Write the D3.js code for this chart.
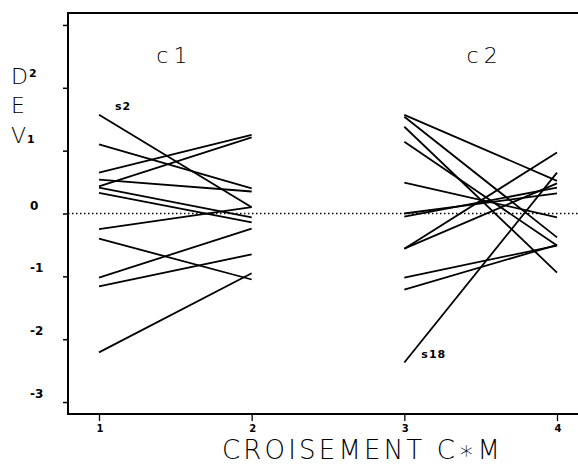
<!DOCTYPE html>
<html><head><meta charset="utf-8">
<script src="https://cdn.jsdelivr.net/npm/d3@7"></script>
<style>body{margin:0;background:#fff}svg{display:block}</style>
</head><body>
<svg id="chart" width="578" height="464"></svg>
<script>
// ---- data ----
const xTicks = [1, 2, 3, 4];
const groupNames = ["c1", "c2"];
const groupX = [[1, 2], [3, 4]];
const c1Start = [1.57, 1.10, 0.65, 0.54, 0.43, 0.41, 0.33, -0.25, -0.40, -1.02, -1.16, -2.21];
const c1End   = [0.10, 0.40, 1.25, 0.35, 1.21, -0.06, -0.14, 0.10, -1.05, -0.24, -0.65, -0.95];
const c2Start = [1.57, 1.54, 1.38, 1.14, 0.49, 0.00, -0.05, -0.56, -0.56, -1.02, -1.21, -2.37];
const c2End   = [0.52, -0.38, -0.94, -0.51, -0.06, 0.32, 0.41, 0.97, 0.48, -0.51, -0.50, 0.65];
const yTicks = [-3, -2, -1, 0, 1, 2, 3];
const yTickLabels = ["-3", "-2", "-1", "0", "", "", ""];
const pointLabels = [{group: 0, index: 0, text: "s2"}, {group: 1, index: 11, text: "s18"}];
const xTitle = "CROISEMENT C\u2217M";

// ---- scales ----
const svg = d3.select("#chart");
const x = d3.scaleLinear().domain([1, 4]).range([99, 557]);
const y = d3.scaleLinear().domain([-3.19, 3.19]).range([414, 13]);
const fLeft = 68, fRight = 578, fTop = 13, fBottom = 414;

// frame
svg.append("line").attr("x1", fLeft).attr("x2", fLeft).attr("y1", fTop - 1).attr("y2", fBottom + 1)
  .attr("stroke", "#000").attr("stroke-width", 2);
svg.append("line").attr("x1", fLeft - 1).attr("x2", fRight).attr("y1", fTop).attr("y2", fTop)
  .attr("stroke", "#000").attr("stroke-width", 2);
svg.append("line").attr("x1", fLeft - 1).attr("x2", fRight).attr("y1", fBottom).attr("y2", fBottom)
  .attr("stroke", "#000").attr("stroke-width", 2);

// y axis ticks
const yAxis = d3.axisLeft(y).tickValues(yTicks).tickSize(5).tickFormat("");
const gy = svg.append("g").attr("transform", `translate(${fLeft},0)`).call(yAxis);
gy.select(".domain").remove();
gy.selectAll(".tick line").attr("stroke", "#000").attr("stroke-width", 1.5);
svg.append("g").selectAll("text").data(yTicks.map((v, i) => ({v, t: yTickLabels[i]})))
  .join("text")
  .attr("x", 30).attr("y", d => y(d.v) - 4)
  .attr("font-family", "DejaVu Sans").attr("font-weight", "bold").attr("font-size", 12)
  .text(d => d.t);

// x axis ticks
const xAxis = d3.axisBottom(x).tickValues(xTicks).tickSize(7).tickFormat("");
const gx = svg.append("g").attr("transform", `translate(0,${fBottom})`).call(xAxis);
gx.select(".domain").remove();
gx.selectAll(".tick line").attr("stroke", "#000").attr("stroke-width", 1.3);
svg.append("g").selectAll("text").data(xTicks).join("text")
  .attr("x", d => x(d) + 1).attr("y", 432).attr("text-anchor", "middle")
  .attr("font-family", "DejaVu Sans").attr("font-weight", "bold").attr("font-size", 10)
  .text(d => d);

// zero dotted line
svg.append("line").attr("x1", fLeft).attr("x2", fRight).attr("y1", y(0)).attr("y2", y(0))
  .attr("stroke", "#000").attr("stroke-width", 1.3).attr("stroke-dasharray", "1.5,2.5");

// lines
const groups = [[c1Start, c1End], [c2Start, c2End]];
groups.forEach((g, gi) => {
  const segs = g[0].map((s, i) => [[groupX[gi][0], s], [groupX[gi][1], g[1][i]]]);
  svg.append("g").selectAll("path").data(segs).join("path")
    .attr("d", d3.line().x(d => x(d[0])).y(d => y(d[1])))
    .attr("fill", "none").attr("stroke", "#000").attr("stroke-width", 1.8);
});

// group titles
svg.append("g").selectAll("text").data(groupNames).join("text")
  .attr("x", (d, i) => x((groupX[i][0] + groupX[i][1]) / 2) - 1 + i * 5)
  .attr("y", 63).attr("text-anchor", "middle")
  .attr("font-family", "DejaVu Sans").attr("font-weight", 300).attr("font-size", 22)
  .attr("letter-spacing", 5)
  .text(d => d);

// point labels
svg.append("g").selectAll("text").data(pointLabels).join("text")
  .attr("x", d => x(groupX[d.group][0]) + (d.group === 0 ? 16 : 17))
  .attr("y", d => y(groups[d.group][0][d.index]) + (d.group === 0 ? -5 : -4))
  .attr("font-family", "DejaVu Sans").attr("font-weight", "bold").attr("font-size", 11)
  .attr("letter-spacing", 1)
  .text(d => d.text);

// y title (stacked)
const yt = svg.append("g").attr("font-family", "DejaVu Sans").attr("font-weight", 300);
[["D", "2", 84, -7], ["E", "", 113, 0], ["V", "1", 143, 0]].forEach(([m, s, yy, dy]) => {
  const t = yt.append("text").attr("x", 11).attr("y", yy).attr("font-size", 22);
  t.append("tspan").text(m);
  if (s) t.append("tspan").attr("font-size", 11).attr("font-weight", "bold").attr("dx", 1).attr("dy", dy).text(s);
});

// x title
svg.append("text").attr("x", 222).attr("y", 459)
  .attr("font-family", "DejaVu Sans").attr("font-weight", 200).attr("font-size", 26)
  .attr("textLength", 278).attr("lengthAdjust", "spacing")
  .text(xTitle);
</script>
</body></html>
